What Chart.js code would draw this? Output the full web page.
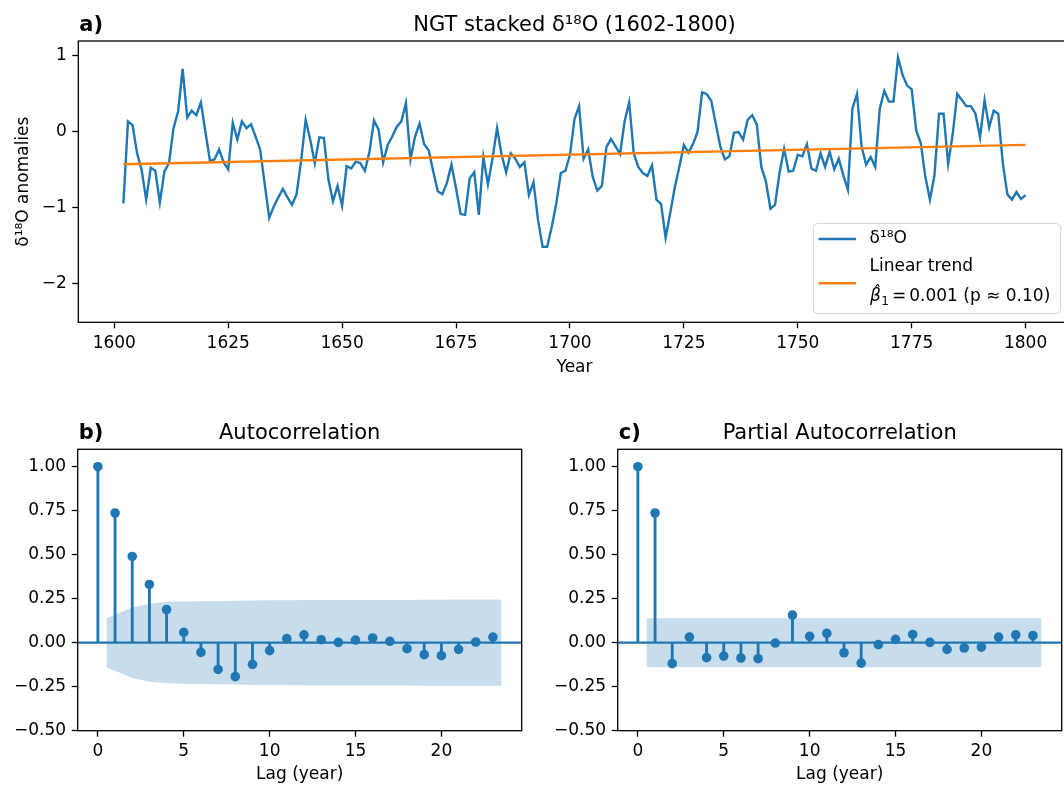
<!DOCTYPE html>
<html>
<head>
<meta charset="utf-8">
<script src="https://cdn.jsdelivr.net/npm/chart.js@4.4.1/dist/chart.umd.min.js"></script>
<style>
  body { margin: 0; background: #fff; }
  #wrap { position: relative; width: 1064px; height: 787px; overflow: hidden; background: #fff; }
  canvas { position: absolute; }
</style>
</head>
<body>
<div id="wrap">
  <canvas id="topChart" width="1080" height="390" style="left:0;top:0"></canvas>
  <canvas id="acfChart" width="530" height="387" style="left:0;top:400px"></canvas>
  <canvas id="pacfChart" width="540" height="387" style="left:530px;top:400px"></canvas>
</div>
<script>
// ---- data ----
const firstYear = 1602;
const d18O = [
  -0.94, 0.14, 0.09, -0.28, -0.50, -0.89, -0.47, -0.51, -0.93, -0.52,   // 1602-1611
  -0.41, 0.05, 0.27, 0.83, 0.19, 0.28, 0.22, 0.39, 0.00, -0.38,         // 1612-1621
  -0.36, -0.23, -0.40, -0.49, 0.12, -0.10, 0.14, 0.05, 0.10, -0.06,     // 1622-1631
  -0.23, -0.68, -1.13, -0.98, -0.86, -0.75, -0.86, -0.96, -0.82, -0.38, // 1632-1641
  0.16, -0.10, -0.41, -0.07, -0.08, -0.63, -0.91, -0.71, -0.97, -0.45,  // 1642-1651
  -0.48, -0.39, -0.41, -0.51, -0.26, 0.15, 0.03, -0.40, -0.17, -0.06,   // 1652-1661
  0.07, 0.14, 0.38, -0.36, -0.06, 0.11, -0.16, -0.24, -0.52, -0.78,     // 1662-1671
  -0.82, -0.67, -0.43, -0.74, -1.08, -1.09, -0.61, -0.53, -1.09, -0.33, // 1672-1681
  -0.69, -0.35, 0.05, -0.30, -0.53, -0.28, -0.35, -0.46, -0.40, -0.83,  // 1682-1691
  -0.66, -1.16, -1.51, -1.51, -1.25, -0.94, -0.54, -0.51, -0.30, 0.17,  // 1692-1701
  0.34, -0.35, -0.23, -0.59, -0.77, -0.71, -0.20, -0.09, -0.19, -0.29,  // 1702-1711
  0.14, 0.39, -0.28, -0.46, -0.54, -0.58, -0.44, -0.89, -0.95, -1.39,   // 1712-1721
  -1.07, -0.73, -0.46, -0.17, -0.27, -0.16, 0.00, 0.52, 0.50, 0.41,     // 1722-1731
  0.11, -0.19, -0.36, -0.32, -0.01, 0.00, -0.10, 0.16, 0.22, 0.10,      // 1732-1741
  -0.46, -0.65, -1.01, -0.96, -0.54, -0.22, -0.52, -0.51, -0.30, -0.32, // 1742-1751
  -0.16, -0.48, -0.51, -0.28, -0.46, -0.26, -0.49, -0.35, -0.57, -0.76, // 1752-1761
  0.31, 0.50, -0.19, -0.43, -0.33, -0.46, 0.31, 0.54, 0.40, 0.40,       // 1762-1771
  0.98, 0.75, 0.61, 0.56, 0.02, -0.15, -0.59, -0.89, -0.57, 0.24,       // 1772-1781
  0.24, -0.42, -0.03, 0.50, 0.42, 0.34, 0.34, 0.24, -0.07, 0.42,        // 1782-1791
  0.06, 0.28, 0.24, -0.41, -0.82, -0.89, -0.79, -0.88, -0.83            // 1792-1800
];
const trendYears = [1602, 1800];
const trendValues = [-0.425, -0.17];

const yearTicks = [1600, 1625, 1650, 1675, 1700, 1725, 1750, 1775, 1800];
const yearTickLabels = ['1600', '1625', '1650', '1675', '1700', '1725', '1750', '1775', '1800'];
const anomTicks = [-2, -1, 0, 1];
const anomTickLabels = ['\u22122', '\u22121', '0', '1'];

const lags = [0, 1, 2, 3, 4, 5, 6, 7, 8, 9, 10, 11, 12, 13, 14, 15, 16, 17, 18, 19, 20, 21, 22, 23];
const acfValues = [1.00, 0.737, 0.490, 0.331, 0.188, 0.059, -0.055, -0.152, -0.193, -0.123,
  -0.045, 0.023, 0.045, 0.017, 0.002, 0.015, 0.027, 0.008, -0.034, -0.068, -0.074, -0.038, 0.004, 0.032];
const pacfValues = [1.00, 0.737, -0.119, 0.032, -0.085, -0.076, -0.087, -0.091, -0.002, 0.157,
  0.036, 0.053, -0.057, -0.116, -0.011, 0.019, 0.047, 0.002, -0.038, -0.030, -0.025, 0.032, 0.045, 0.040];

const acfBandLags = [0.5, 2, 3, 4, 5, 6, 7, 8, 9, 10, 11, 12, 13, 14, 15, 16, 17, 18, 19, 20, 21, 22, 23.5];
const acfBandUpper = [0.139, 0.200, 0.222, 0.231, 0.234, 0.235, 0.236, 0.238, 0.240, 0.241, 0.241, 0.242,
  0.242, 0.242, 0.242, 0.243, 0.243, 0.243, 0.244, 0.244, 0.245, 0.245, 0.245];
const acfBandLower = [-0.139, -0.200, -0.222, -0.231, -0.234, -0.235, -0.236, -0.238, -0.240, -0.241, -0.241, -0.242,
  -0.242, -0.242, -0.242, -0.243, -0.243, -0.243, -0.244, -0.244, -0.245, -0.245, -0.245];
const pacfBandLags = [0.5, 23.5];
const pacfBandUpper = [0.139, 0.139];
const pacfBandLower = [-0.139, -0.139];

const lagTicks = [0, 5, 10, 15, 20];
const lagTickLabels = ['0', '5', '10', '15', '20'];
const corrTicks = [-0.5, -0.25, 0, 0.25, 0.5, 0.75, 1.0];
const corrTickLabels = ['\u22120.50', '\u22120.25', '0.00', '0.25', '0.50', '0.75', '1.00'];

const blue = '#1f77b4';
const orange = '#ff7f0e';
const bandColor = 'rgba(31,119,180,0.25)';
const labelFont = { family: '"DejaVu Sans", sans-serif', size: 17 };

Chart.defaults.font.family = '"DejaVu Sans", sans-serif';
Chart.defaults.font.size = 17;
Chart.defaults.color = '#000';

// frame + title + panel letter
const framePlugin = {
  id: 'frame',
  afterDraw(chart, args, opts) {
    const ctx = chart.ctx;
    const a = chart.chartArea;
    ctx.save();
    ctx.strokeStyle = '#000';
    ctx.lineWidth = 1.3;
    ctx.strokeRect(a.left, a.top, a.right - a.left, a.bottom - a.top);
    ctx.fillStyle = '#000';
    ctx.textBaseline = 'alphabetic';
    ctx.font = '21px "DejaVu Sans"';
    ctx.textAlign = 'center';
    ctx.fillText(opts.title, (a.left + a.right) / 2, a.top - 10.5);
    ctx.font = 'bold 21px "DejaVu Sans"';
    ctx.textAlign = 'left';
    ctx.fillText(opts.tag, a.left + 1, a.top - 10.5);
    ctx.restore();
  }
};

// legend box of panel a
const legendPlugin = {
  id: 'legendBox',
  afterDraw(chart) {
    const ctx = chart.ctx;
    ctx.save();
    ctx.beginPath();
    ctx.roundRect(813.5, 223.5, 247, 90, 4);
    ctx.fillStyle = 'rgba(255,255,255,0.8)';
    ctx.fill();
    ctx.strokeStyle = '#d6d6d6';
    ctx.lineWidth = 1;
    ctx.stroke();

    ctx.lineWidth = 2.4;
    ctx.strokeStyle = blue;
    ctx.beginPath(); ctx.moveTo(818.5, 239); ctx.lineTo(856, 239); ctx.stroke();
    ctx.strokeStyle = orange;
    ctx.beginPath(); ctx.moveTo(818.5, 283.3); ctx.lineTo(856, 283.3); ctx.stroke();

    ctx.fillStyle = '#000';
    ctx.textAlign = 'left';
    ctx.textBaseline = 'middle';
    ctx.font = '17px "DejaVu Sans"';
    ctx.fillText('\u03b4\u00b9\u2078O', 869.5, 239);
    ctx.fillText('Linear trend', 869.5, 266.7);

    // beta-hat_1 = 0.001 (p ~ 0.10)
    ctx.textBaseline = 'alphabetic';
    let x = 870, base = 301;
    ctx.font = 'italic 17px "DejaVu Sans"';
    ctx.fillText('\u03b2', x, base);
    const bw = ctx.measureText('\u03b2').width;
    ctx.font = '15px "DejaVu Sans"';
    ctx.textAlign = 'center';
    ctx.fillText('\u02c6', x + bw / 2 + 2, base - 4);
    ctx.textAlign = 'left';
    x += bw;
    ctx.font = '12px "DejaVu Sans"';
    ctx.fillText('1', x + 0.5, base + 3.5);
    x += ctx.measureText('1').width + 3.5;
    ctx.font = '17px "DejaVu Sans"';
    ctx.fillText('=', x, base);
    x += ctx.measureText('=').width + 3;
    ctx.fillText('0.001 (p \u2248 0.10)', x, base);
    ctx.restore();
  }
};

function axisGrid() {
  return { drawOnChartArea: false, drawTicks: true, tickLength: 6, offset: false, color: '#000', tickColor: '#000', tickWidth: 1.3 };
}

// ---- panel a: time series ----
const years = d18O.map((v, i) => firstYear + i);

new Chart(document.getElementById('topChart'), {
  type: 'line',
  data: {
    datasets: [
      {
        label: 'Linear trend',
        data: trendYears.map((yr, i) => ({ x: yr, y: trendValues[i] })),
        borderColor: orange, borderWidth: 2.4, pointRadius: 0, order: 0
      },
      {
        label: '\u03b4\u00b9\u2078O',
        data: years.map((yr, i) => ({ x: yr, y: d18O[i] })),
        borderColor: blue, borderWidth: 2.4, pointRadius: 0, tension: 0, order: 1
      }
    ]
  },
  options: {
    responsive: false,
    animation: false,
    events: [],
    layout: { padding: { left: 0, top: 41, right: 9.3, bottom: 0 }, autoPadding: false },
    plugins: {
      legend: { display: false },
      tooltip: { enabled: false },
      frame: { tag: 'a)', title: 'NGT stacked \u03b4\u00b9\u2078O (1602-1800)' }
    },
    scales: {
      x: {
        type: 'linear', min: 1592.1, max: 1809.9,
        afterBuildTicks: s => { s.ticks = yearTicks.map(v => ({ value: v })); },
        afterFit: s => { s.height = 67.7; },
        grid: axisGrid(),
        border: { display: false },
        ticks: { padding: 5, color: '#000', font: labelFont, maxRotation: 0, autoSkip: false, callback: (v, i) => yearTickLabels[i] },
        title: { display: true, text: 'Year', color: '#000', font: labelFont, padding: { top: 0, bottom: 12.1 } }
      },
      y: {
        type: 'linear', min: -2.504, max: 1.197,
        afterBuildTicks: s => { s.ticks = anomTicks.map(v => ({ value: v })); },
        afterFit: s => { s.width = 78.3; },
        grid: axisGrid(),
        border: { display: false },
        ticks: { padding: 5.6, color: '#000', font: labelFont, autoSkip: false, callback: (v, i) => anomTickLabels[i] },
        title: { display: true, text: '\u03b4\u00b9\u2078O anomalies', color: '#000', font: labelFont, padding: { top: 13, bottom: 0 } }
      }
    }
  },
  plugins: [framePlugin, legendPlugin]
});

// ---- panels b and c: stem plots ----
function stemPanel(id, tag, title, values, bandLags, bandUpper, bandLower, yWidth) {
  return new Chart(document.getElementById(id), {
    type: 'scatter',
    data: {
      datasets: [
        {
          type: 'scatter',
          data: lags.map((l, i) => ({ x: l, y: values[i] })),
          backgroundColor: blue, borderColor: blue, pointRadius: 4.8, borderWidth: 0, order: 0
        },
        {
          type: 'bar',
          data: lags.map((l, i) => ({ x: l, y: values[i] })),
          backgroundColor: blue, barThickness: 2.2, order: 1
        },
        {
          type: 'line',
          data: [{ x: -1.175, y: 0 }, { x: 24.675, y: 0 }],
          borderColor: blue, borderWidth: 2.2, pointRadius: 0, order: 2
        },
        {
          type: 'line',
          data: bandLags.map((l, i) => ({ x: l, y: bandUpper[i] })),
          borderWidth: 0, pointRadius: 0, backgroundColor: bandColor, fill: '+1', order: 3
        },
        {
          type: 'line',
          data: bandLags.map((l, i) => ({ x: l, y: bandLower[i] })),
          borderWidth: 0, pointRadius: 0, fill: false, order: 4
        }
      ]
    },
    options: {
      responsive: false,
      animation: false,
      events: [],
      layout: { padding: { left: 0, top: 49.3, right: 8.3, bottom: 0 }, autoPadding: false },
      plugins: {
        legend: { display: false },
        tooltip: { enabled: false },
        frame: { tag: tag, title: title }
      },
      scales: {
        x: {
          type: 'linear', min: -1.175, max: 24.675, offset: false,
          afterBuildTicks: s => { s.ticks = lagTicks.map(v => ({ value: v })); },
          afterFit: s => { s.height = 56.3; },
          grid: axisGrid(),
          border: { display: false },
          ticks: { padding: 5, color: '#000', font: labelFont, maxRotation: 0, autoSkip: false, callback: (v, i) => lagTickLabels[i] },
          title: { display: true, text: 'Lag (year)', color: '#000', font: labelFont, padding: { top: 0, bottom: 1.8 } }
        },
        y: {
          type: 'linear', min: -0.5, max: 1.099,
          afterBuildTicks: s => { s.ticks = corrTicks.map(v => ({ value: v })); },
          afterFit: s => { s.width = yWidth; },
          grid: axisGrid(),
          border: { display: false },
          ticks: { padding: 5.6, color: '#000', font: labelFont, autoSkip: false, callback: (v, i) => corrTickLabels[i] }
        }
      }
    },
    plugins: [framePlugin]
  });
}

stemPanel('acfChart', 'b)', 'Autocorrelation', acfValues, acfBandLags, acfBandUpper, acfBandLower, 77.7);
stemPanel('pacfChart', 'c)', 'Partial Autocorrelation', pacfValues, pacfBandLags, pacfBandUpper, pacfBandLower, 87.7);
</script>
</body>
</html>
